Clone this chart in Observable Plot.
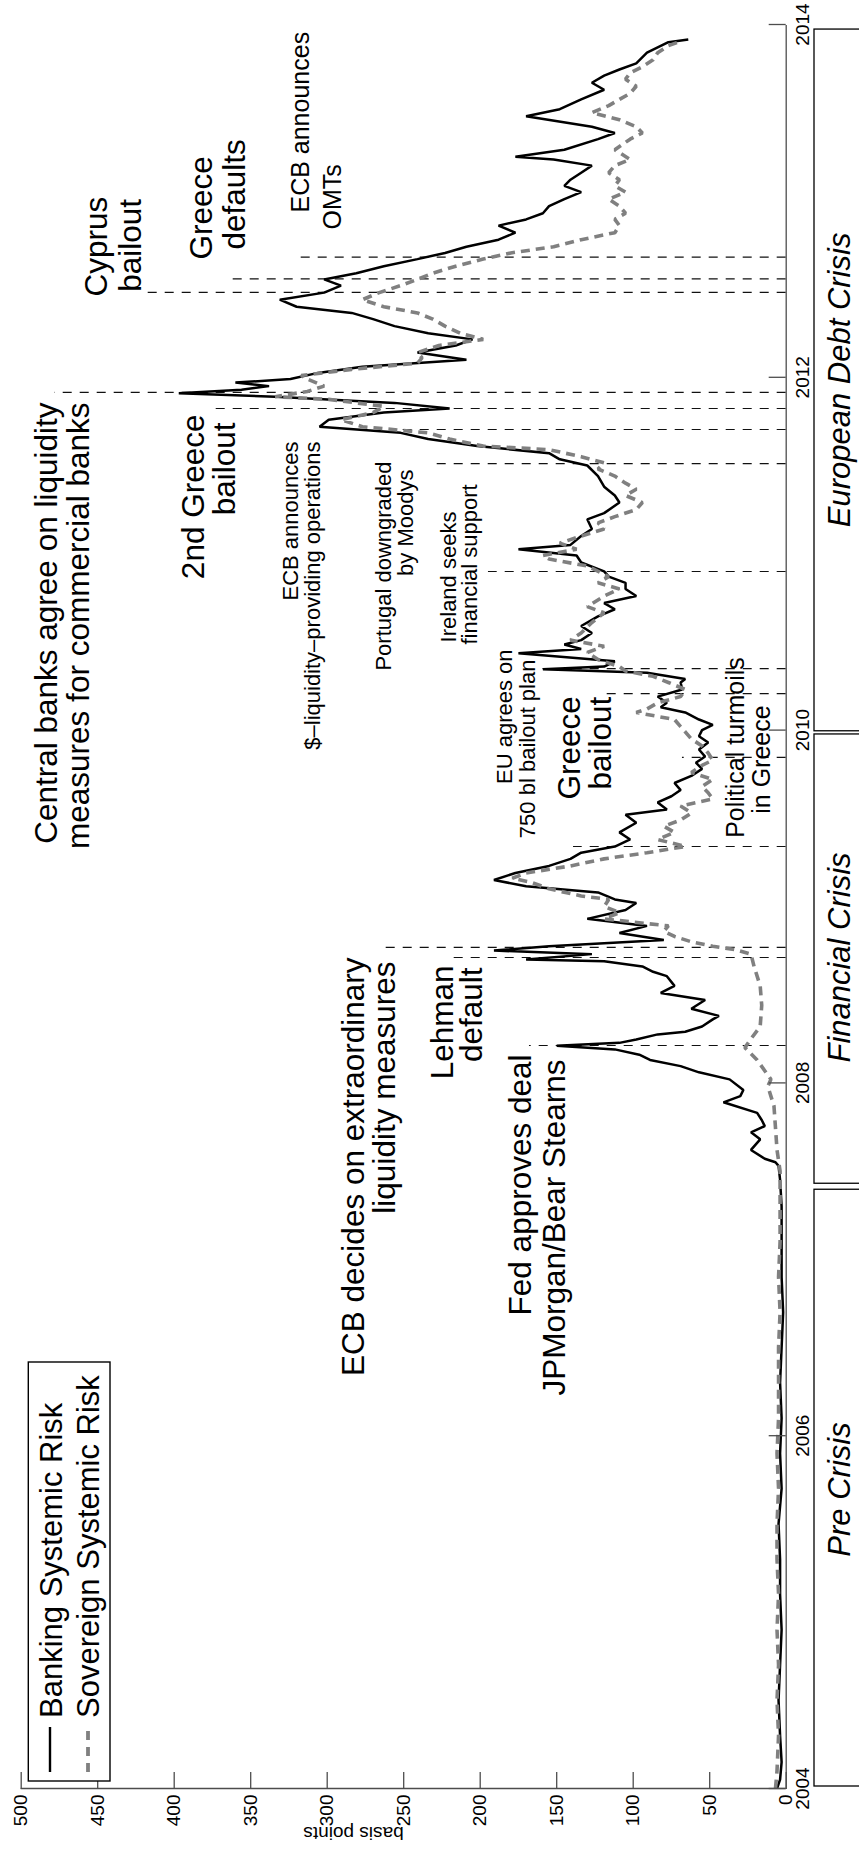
<!DOCTYPE html>
<html>
<head>
<meta charset="utf-8">
<script src="https://cdn.jsdelivr.net/npm/d3@7"></script>
<script src="https://cdn.jsdelivr.net/npm/@observablehq/plot@0.6"></script>
<style>
  html, body { margin: 0; padding: 0; background: #fff; overflow: hidden; }
  #page { position: relative; width: 859px; height: 1851px; overflow: hidden; background: #fff; }
  /* the landscape figure is turned a quarter turn counter-clockwise */
  #chart { position: absolute; left: 0; top: 0; width: 1851px; height: 859px;
           transform-origin: 0 0; transform: translate(0, 1851px) rotate(-90deg); }
</style>
</head>
<body>
<div id="page"><div id="chart"></div></div>
<script>
const FONT = "'Liberation Sans', Arial, Helvetica, sans-serif";

// ---- series (decimal year, basis points) ----
const bankDates = [2004.00,2004.05,2004.15,2004.30,2004.50,2004.70,2004.90,2005.10,2005.30,2005.50,2005.70,2005.90,2006.10,2006.30,2006.50,2006.70,2006.90,2007.10,2007.30,2007.45,
  2007.53,2007.55,2007.57,2007.62,2007.68,2007.72,2007.755,2007.79,2007.83,2007.89,2007.925,2007.96,2008.02,2008.06,2008.095,2008.13,2008.16,2008.19,2008.21,2008.227,
  2008.246,2008.275,2008.29,2008.32,2008.36,2008.38,2008.42,2008.47,2008.51,2008.55,2008.605,2008.63,2008.66,2008.69,2008.70,2008.73,2008.75,2008.775,2008.81,2008.85,
  2008.89,2008.93,2008.98,2009.02,2009.04,2009.08,2009.115,2009.15,2009.19,2009.23,2009.27,2009.305,2009.34,2009.38,2009.42,2009.475,2009.52,2009.55,2009.59,2009.625,
  2009.66,2009.70,2009.74,2009.78,2009.815,2009.85,2009.89,2009.93,2009.965,2010.00,2010.03,2010.06,2010.10,2010.13,2010.155,2010.19,2010.23,2010.27,2010.29,2010.325,
  2010.345,2010.36,2010.39,2010.435,2010.46,2010.485,2010.51,2010.55,2010.59,2010.645,2010.685,2010.72,2010.76,2010.80,2010.835,2010.87,2010.90,2010.95,2010.99,2011.025,
  2011.05,2011.10,2011.14,2011.195,2011.23,2011.29,2011.33,2011.38,2011.44,2011.50,2011.535,2011.57,2011.61,2011.65,2011.685,2011.72,2011.76,2011.80,2011.823,2011.855,
  2011.89,2011.91,2011.93,2011.95,2011.97,2011.99,2012.025,2012.06,2012.10,2012.14,2012.18,2012.215,2012.25,2012.29,2012.33,2012.365,2012.40,2012.44,2012.48,2012.52,
  2012.555,2012.59,2012.63,2012.67,2012.705,2012.74,2012.78,2012.82,2012.86,2012.895,2012.93,2012.97,2013.01,2013.05,2013.085,2013.12,2013.16,2013.20,2013.235,2013.25,
  2013.29,2013.35,2013.385,2013.42,2013.48,2013.52,2013.575,2013.63,2013.67,2013.71,2013.745,2013.78,2013.84,2013.90,2013.915];
const bankValues = [6,4,3,4,5,4,3,4,4,5,3,4,3,4,3,2,3,3,3,4,
  5,7,14,23,17,23,14,16,19,41,30,28,37,57,69,89,96,112,150,109,
  98,84,66,55,48,44,62,53,82,73,78,87,94,119,170,127,191,155,80,109,
  91,130,105,98,112,123,170,191,177,155,141,134,112,102,109,98,105,78,84,75,
  69,73,62,55,59,53,57,51,57,55,48,57,66,82,78,84,68,69,66,91,
  159,119,112,175,134,145,134,127,134,123,112,119,98,105,105,116,119,134,137,175,
  141,134,127,130,119,109,112,119,123,130,148,155,202,234,252,305,299,263,220,256,
  334,397,356,338,360,324,306,277,209,241,216,205,234,256,270,284,320,331,302,291,
  302,281,263,241,223,209,188,177,188,170,159,155,145,134,145,141,134,127,152,177,
  145,123,112,127,170,148,134,119,127,119,109,98,91,77,64];

const sovDates = [2004.00,2004.10,2004.30,2004.50,2004.70,2004.90,2005.10,2005.30,2005.50,2005.70,2005.90,2006.10,2006.30,2006.50,2006.70,2006.90,2007.10,2007.30,2007.50,2007.62,
  2007.87,2007.98,2008.02,2008.13,2008.20,2008.25,2008.32,2008.44,2008.55,2008.66,2008.73,2008.755,2008.775,2008.80,2008.83,2008.86,2008.89,2008.93,2008.965,2009.00,
  2009.04,2009.06,2009.10,2009.135,2009.16,2009.19,2009.23,2009.27,2009.305,2009.34,2009.38,2009.42,2009.455,2009.49,2009.53,2009.57,2009.61,2009.645,2009.68,2009.72,
  2009.76,2009.80,2009.83,2009.87,2009.91,2009.95,2009.99,2010.02,2010.06,2010.10,2010.12,2010.155,2010.19,2010.23,2010.27,2010.305,2010.335,2010.36,2010.40,2010.44,
  2010.475,2010.51,2010.55,2010.61,2010.665,2010.70,2010.76,2010.80,2010.835,2010.87,2010.93,2010.97,2010.99,2011.025,2011.06,2011.10,2011.14,2011.175,2011.21,2011.25,
  2011.29,2011.33,2011.365,2011.40,2011.44,2011.48,2011.515,2011.55,2011.59,2011.61,2011.65,2011.685,2011.72,2011.76,2011.80,2011.835,2011.875,2011.89,2011.92,2011.95,
  2011.99,2012.01,2012.045,2012.08,2012.11,2012.14,2012.18,2012.215,2012.25,2012.29,2012.33,2012.365,2012.40,2012.44,2012.48,2012.52,2012.555,2012.59,2012.63,2012.67,
  2012.705,2012.74,2012.78,2012.82,2012.86,2012.895,2012.93,2012.97,2013.01,2013.05,2013.085,2013.12,2013.16,2013.20,2013.235,2013.29,2013.35,2013.385,2013.42,2013.46,
  2013.50,2013.54,2013.575,2013.61,2013.65,2013.69,2013.725,2013.76,2013.80,2013.84,2013.88,2013.905];
const sovValues = [7,6,5,6,5,6,5,6,6,5,6,5,5,5,4,5,4,4,4,6,
  8,12,10,19,27,23,17,16,17,21,23,33,48,62,73,80,77,119,109,119,
  116,134,155,166,179,170,141,119,91,66,84,73,80,69,62,69,48,51,55,48,
  62,55,48,51,55,62,66,69,73,98,91,84,69,66,77,87,105,109,123,130,
  119,141,134,127,119,130,119,109,123,116,130,155,159,137,148,134,119,123,112,98,
  94,105,98,105,112,123,119,134,155,198,220,234,277,291,270,263,299,334,313,302,
  313,317,284,241,238,241,227,198,213,223,231,241,263,277,266,252,241,231,216,198,
  180,152,134,112,109,112,105,109,116,105,112,109,116,112,102,112,102,94,98,109,
  127,116,109,102,98,105,102,94,87,84,77,69];

// ---- axis ticks ----
const yearTicks = [2004, 2006, 2008, 2010, 2012, 2014];
const bpTicks = [0, 50, 100, 150, 200, 250, 300, 350, 400, 450, 500];

// ---- event markers: date and height of each dashed line ----
const eventDates = [2008.212, 2008.711, 2008.768, 2009.340, 2009.845, 2010.207, 2010.349, 2010.899,
                    2011.511, 2011.704, 2011.823, 2011.914, 2012.482, 2012.558, 2012.681];
const eventTops  = [167.8, 220, 266.5, 139, 67.8, 118, 159, 194.6,
                    232, 255, 375.6, 478, 420, 365, 319];

// ---- event captions (anchored at a date / basis-point position) ----
const bigEndNotes = [
  {text: "Central banks agree on liquidity", date: 2011.857, value: 476.3},
  {text: "measures for commercial banks",    date: 2011.857, value: 455.4},
  {text: "2nd Greece",                       date: 2011.789, value: 380.2},
  {text: "bailout",                          date: 2011.744, value: 360.0},
  {text: "ECB decides on extraordinary",     date: 2008.711, value: 276.0},
  {text: "liquidity measures",               date: 2008.688, value: 256.0},
  {text: "Lehman",                           date: 2008.666, value: 218.0},
  {text: "default",                          date: 2008.654, value: 198.5},
  {text: "Fed approves deal",                date: 2008.161, value: 167.0},
  {text: "JPMorgan/Bear Stearns",            date: 2008.133, value: 144.3}
];
const bigStartNotes = [
  {text: "Cyprus",   date: 2012.458, value: 443.6},
  {text: "bailout",  date: 2012.485, value: 422.0},
  {text: "Greece",   date: 2012.668, value: 375.0},
  {text: "defaults", date: 2012.724, value: 353.4},
  {text: "Greece",   date: 2009.607, value: 134.8},
  {text: "bailout",  date: 2009.663, value: 114.5}
];
const smallEndNotes = [
  {text: "ECB announces",                      date: 2011.636, value: 319.4},
  {text: "$\u2013liquidity\u2013providing operations", date: 2011.636, value: 304.4},
  {text: "Portugal downgraded",                date: 2011.523, value: 258.6},
  {text: "by Moodys",                          date: 2011.477, value: 243.6},
  {text: "EU agrees on",                       date: 2010.457, value: 178.9},
  {text: "750 bl bailout plan",                date: 2010.400, value: 163.9}
];
const smallStartNotes = [
  {text: "Ireland seeks",     date: 2010.497, value: 216.1},
  {text: "financial support", date: 2010.485, value: 201.8}
];
const midStartNotes = [
  {text: "ECB announces", date: 2012.934, value: 312.2},
  {text: "OMTs",          date: 2012.838, value: 291.3}
];
const midMiddleNotes = [
  {text: "Political turmoils", date: 2009.901, value: 27.9},
  {text: "in Greece",          date: 2009.833, value: 10.9}
];

// ---- crisis periods shown in the strip under the time axis ----
const periodNames  = ["Pre Crisis", "Financial Crisis", "European Debt Crisis"];
const periodStarts = [2004.017, 2007.434, 2009.999];
const periodEnds   = [2007.400, 2009.981, 2013.977];
const periodLabelAt = [2005.695, 2008.711, 2011.985];

const bank = bankDates.map((d, i) => ({date: d, value: bankValues[i]}));
const sov = sovDates.map((d, i) => ({date: d, value: sovValues[i]}));
const events = eventDates.map((d, i) => ({date: d, top: eventTops[i]}));
const periods = periodNames.map((n, i) => ({name: n, start: periodStarts[i], end: periodEnds[i], at: periodLabelAt[i]}));

const W = 1851, H = 859;
const M = {left: 62, right: 25, top: 20.7, bottom: 73.3};
const frameW = W - M.left - M.right, frameH = H - M.top - M.bottom;
const AXIS = "#4d4d4d";
const BIG = 31.5, MID = 25, SMALL = 22;

const noteMark = (data, anchor, size) => Plot.text(data, {
  x: "date", y: "value", text: "text", textAnchor: anchor, lineAnchor: "bottom",
  fontSize: size, fill: "black"
});

const plot = Plot.plot({
  width: W, height: H,
  marginLeft: M.left, marginRight: M.right, marginTop: M.top, marginBottom: M.bottom,
  style: {fontFamily: FONT, background: "white", overflow: "visible", maxWidth: "none"},
  x: {type: "linear", domain: [2004, 2014]},
  y: {domain: [0, 500]},
  marks: [
    // period boxes below the axis
    Plot.rect(periods, {x1: "start", x2: "end", insetTop: frameH + 28.3, insetBottom: -120,
                        fill: "none", stroke: "black", strokeWidth: 1.3}),
    Plot.text(periods, {x: "at", text: "name", frameAnchor: "bottom", dy: 64, lineAnchor: "bottom",
                        fontSize: 31, fontStyle: "italic", fill: "black"}),
    // event markers
    Plot.ruleX(events, {x: "date", y1: 0, y2: "top", stroke: "#111", strokeWidth: 1.2,
                        strokeDasharray: "9,8"}),
    // series
    Plot.line(bank, {x: "date", y: "value", stroke: "black", strokeWidth: 2.5,
                     strokeLinejoin: "miter", strokeLinecap: "butt"}),
    Plot.line(sov, {x: "date", y: "value", stroke: "#808080", strokeWidth: 3.6,
                    strokeDasharray: "9,6", strokeLinecap: "butt", strokeLinejoin: "miter"}),
    // captions
    noteMark(bigEndNotes, "end", BIG),
    noteMark(bigStartNotes, "start", BIG),
    noteMark(smallEndNotes, "end", SMALL),
    noteMark(smallStartNotes, "start", SMALL),
    noteMark(midStartNotes, "start", MID),
    noteMark(midMiddleNotes, "middle", MID),
    // axes (inward ticks, no box)
    Plot.ruleY([0], {stroke: AXIS, strokeWidth: 1.3}),
    Plot.ruleX([2004], {stroke: AXIS, strokeWidth: 1.3}),
    Plot.tickX(yearTicks, {x: d => d, insetTop: frameH - 17, stroke: AXIS, strokeWidth: 1.3}),
    Plot.tickY(bpTicks, {y: d => d, insetRight: frameW - 17, stroke: AXIS, strokeWidth: 1.3}),
    Plot.axisX({ticks: yearTicks, tickFormat: "d", tickSize: 0, tickPadding: 9.5, fontSize: 19, label: null, fill: "black"}),
    Plot.axisY({ticks: bpTicks, tickSize: 0, tickPadding: 6, fontSize: 19, label: null, fill: "black"}),
    Plot.text(["basis points"], {frameAnchor: "left", rotate: -90, dx: -45, fontSize: 19, fill: "black"})
  ]
});

// legend box in the upper-left corner of the axes
const svg = d3.select(plot);
const lg = svg.append("g").attr("font-family", FONT).attr("font-size", 31)
  .attr("text-anchor", "start").attr("fill", "black");
lg.append("rect").attr("x", 70).attr("y", 28.3).attr("width", 419).attr("height", 81.7)
  .attr("fill", "white").attr("stroke", "black").attr("stroke-width", 1.4);
lg.append("line").attr("x1", 79).attr("x2", 124).attr("y1", 50).attr("y2", 50)
  .attr("stroke", "black").attr("stroke-width", 2.4);
lg.append("line").attr("x1", 79).attr("x2", 126).attr("y1", 88).attr("y2", 88)
  .attr("stroke", "#808080").attr("stroke-width", 3.8).attr("stroke-dasharray", "9,7");
lg.append("text").attr("x", 133).attr("y", 62).text("Banking Systemic Risk");
lg.append("text").attr("x", 133).attr("y", 99).text("Sovereign Systemic Risk");

document.getElementById("chart").appendChild(plot);
</script>
</body>
</html>
